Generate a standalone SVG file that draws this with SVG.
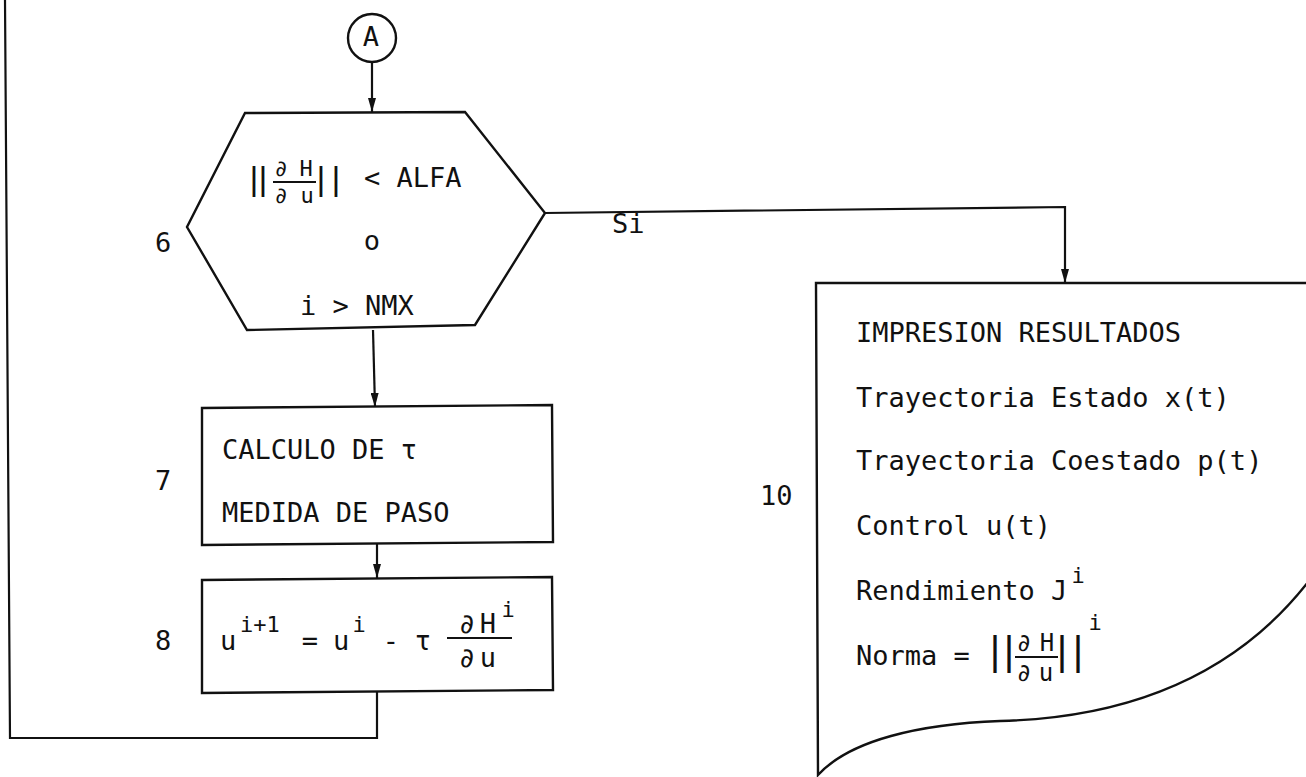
<svg xmlns="http://www.w3.org/2000/svg" width="1306" height="777" viewBox="0 0 1306 777">
<defs>
<style>
.ln{fill:none;stroke:#111;stroke-width:2.2;stroke-linejoin:miter}
.sh{fill:#fff;stroke:#111;stroke-width:2.4}
.t{font-family:"DejaVu Sans Mono","Liberation Mono",monospace;font-size:27px;fill:#111}
.m{text-anchor:middle}
.f22{font-size:22px}
.f24{font-size:24px}
.bar{font-family:"Liberation Mono","DejaVu Sans Mono",monospace;text-anchor:middle;fill:#111}
.b34{font-size:34px}
.b40{font-size:40px}
</style>
<marker id="ah" markerUnits="userSpaceOnUse" markerWidth="14" markerHeight="8" refX="14" refY="4" orient="auto">
<path d="M0,0 L14,4 L0,8 z" fill="#111"/>
</marker>
</defs>
<rect x="0" y="0" width="1306" height="777" fill="#fff"/>

<g id="connectors">
<path class="ln" d="M372,62 L372,112" marker-end="url(#ah)"/>
<path class="ln" d="M545,213 L1065,207 L1065,283" marker-end="url(#ah)"/>
<path class="ln" d="M373,330 L375,407" marker-end="url(#ah)"/>
<path class="ln" d="M377,543 L377,578" marker-end="url(#ah)"/>
<path class="ln" d="M377,692 L377,738 L10,738 L5,0"/>
<text class="t" x="612" y="233">Si</text>
</g>

<g id="nodeA">
<circle class="sh" cx="372" cy="38" r="24"/>
<text class="t m" x="371" y="46">A</text>
</g>

<g id="node6">
<polygon class="sh" points="245,113 465,112 545,213 475,325 247,330 187,227"/>
<text class="t" x="155" y="252">6</text>
<text class="bar b34" x="254" y="190">|</text>
<text class="bar b34" x="263" y="190">|</text>
<text class="t m f22" x="281" y="176">∂</text>
<text class="t m f22" x="306" y="176">H</text>
<line class="ln" x1="273" y1="182" x2="316" y2="182" style="stroke-width:1.8"/>
<text class="t m f22" x="281" y="203">∂</text>
<text class="t m f22" x="307" y="203">u</text>
<text class="bar b34" x="321" y="190">|</text>
<text class="bar b34" x="336" y="190">|</text>
<text class="t" x="364" y="187">&lt; ALFA</text>
<text class="t m" x="372" y="250">o</text>
<text class="t" x="300" y="315">i &gt; NMX</text>
</g>

<g id="node7">
<polygon class="sh" points="202,408 552,405 553,542 202,545"/>
<text class="t" x="155" y="490">7</text>
<text class="t" x="222" y="459">CALCULO DE τ</text>
<text class="t" x="222" y="522">MEDIDA DE PASO</text>
</g>

<g id="node8">
<polygon class="sh" points="202,580 552,577 553,690 202,693"/>
<text class="t" x="155" y="650">8</text>
<text class="t" x="220" y="650">u</text>
<text class="t f22" x="240" y="632">i+1</text>
<text class="t m" x="310" y="650">=</text>
<text class="t" x="333" y="650">u</text>
<text class="t m f22" x="359" y="632">i</text>
<text class="t m" x="391" y="650">-</text>
<text class="t m" x="423" y="650">τ</text>
<text class="t m" x="467" y="633">∂</text>
<text class="t m" x="488" y="633">H</text>
<text class="t m f22" x="508" y="617">i</text>
<line class="ln" x1="447" y1="638" x2="512" y2="638" style="stroke-width:1.8"/>
<text class="t m" x="467" y="667">∂</text>
<text class="t m" x="488" y="667">u</text>
</g>

<g id="node10">
<path class="sh" d="M1320,283 L816,283 L818,775 C850,740 920,724 1000,721 C1120,718 1240,680 1320,566"/>
<text class="t" x="760" y="505">10</text>
<text class="t" x="856" y="342">IMPRESION RESULTADOS</text>
<text class="t" x="856" y="407">Trayectoria Estado x(t)</text>
<text class="t" x="856" y="470">Trayectoria Coestado p(t)</text>
<text class="t" x="856" y="535">Control u(t)</text>
<text class="t" x="856" y="600">Rendimiento J</text>
<text class="t m f22" x="1078" y="583">i</text>
<text class="t" x="856" y="665">Norma =</text>
<text class="bar b40" x="995" y="665">|</text>
<text class="bar b40" x="1009" y="665">|</text>
<text class="t m f24" x="1024" y="651">∂</text>
<text class="t m f24" x="1047" y="651">H</text>
<line class="ln" x1="1015" y1="657" x2="1058" y2="657" style="stroke-width:1.8"/>
<text class="t m f24" x="1024" y="681">∂</text>
<text class="t m f24" x="1046" y="681">u</text>
<text class="bar b40" x="1062" y="665">|</text>
<text class="bar b40" x="1078" y="665">|</text>
<text class="t m f22" x="1095" y="630">i</text>
</g>
</svg>
